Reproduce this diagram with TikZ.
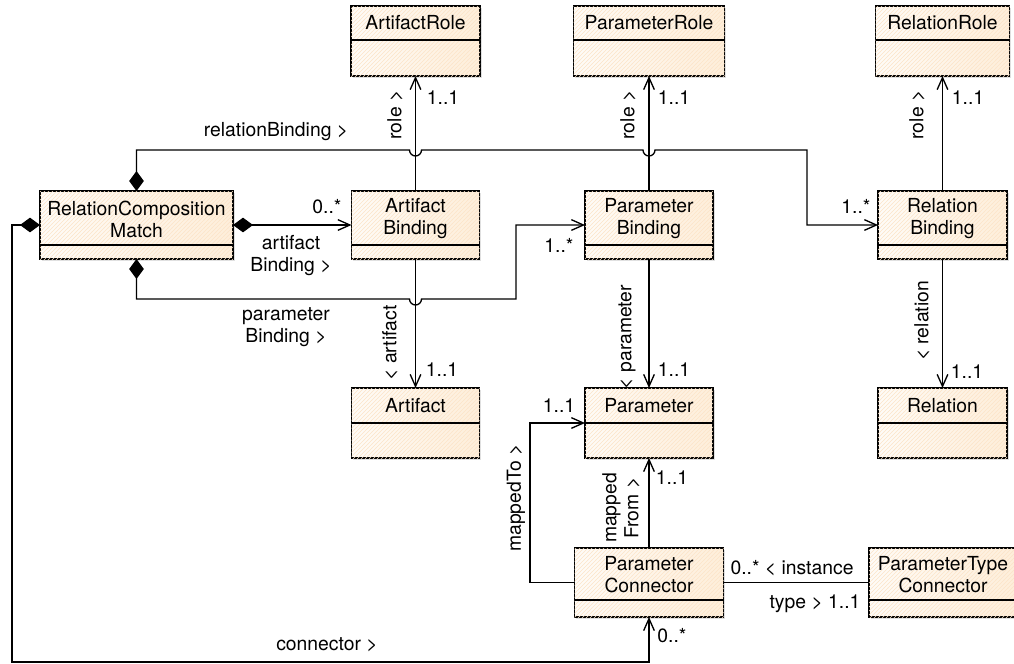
\documentclass[tikz,border=0pt]{standalone}
\usepackage{fontspec}
\setmainfont{TeX Gyre Heros}
\usetikzlibrary{arrows.meta,shadows,patterns}
\tikzset{every picture/.style={line width=0.75pt}}
\definecolor{classfill}{RGB}{254,238,218}
\definecolor{classhatch}{RGB}{252,228,200}
\tikzset{
  cls/.style 2 args={draw, line width=1.1pt, inner sep=0pt, outer sep=0pt,
    minimum width=#1*0.75pt, minimum height=#2*0.75pt,
    left color=white!80!classfill, right color=classfill,
    drop shadow={shadow xshift=1.4pt, shadow yshift=-1.4pt, opacity=0.2, fill=black!60},
    postaction={pattern=north east lines, pattern color=classhatch}},
  sep/.style={line width=1.1pt},
  title/.style={align=center, inner sep=0.75pt},
  lbl/.style={align=center, inner sep=0.75pt},
  assoc/.style={line width=1pt, -{Straight Barb[length=9pt,width=8pt]}},
  compose/.style={line width=1pt, {Diamond[length=15pt,width=11pt]}-{Straight Barb[length=9pt,width=8pt]}},
  plain/.style={line width=1pt},
}

\begin{document}
\begin{tikzpicture}[x=0.75pt,y=0.75pt,yscale=-1,xscale=1,
  every node/.style={font=\fontsize{14.5}{16.5}\selectfont}]
\useasboundingbox (0,0) rectangle (1014,664);

%Shape: Rectangle (role classes)
\node[cls={129}{70}] (artrole) at (415.5,41) {};
\draw[sep] (artrole.west |- 0,40) -- (artrole.east |- 0,40);
\node[cls={151}{70}] (parrole) at (649,41) {};
\draw[sep] (parrole.west |- 0,40) -- (parrole.east |- 0,40);
\node[cls={134}{70}] (relrole) at (942.5,41) {};
\draw[sep] (relrole.west |- 0,40) -- (relrole.east |- 0,40);

%Shape: Rectangle (match and bindings)
\node[cls={193}{68}] (rcm) at (136.5,225) {};
\draw[sep] (rcm.west |- 0,245) -- (rcm.east |- 0,245);
\node[cls={128}{68}] (artbind) at (415.5,225) {};
\draw[sep] (artbind.west |- 0,245) -- (artbind.east |- 0,245);
\node[cls={128}{68}] (parbind) at (649,225) {};
\draw[sep] (parbind.west |- 0,245) -- (parbind.east |- 0,245);
\node[cls={129}{68}] (relbind) at (942.5,225) {};
\draw[sep] (relbind.west |- 0,245) -- (relbind.east |- 0,245);

%Shape: Rectangle (bound elements)
\node[cls={128}{70}] (artifact) at (415.5,423) {};
\draw[sep] (artifact.west |- 0,423) -- (artifact.east |- 0,423);
\node[cls={128}{70}] (param) at (649,423) {};
\draw[sep] (param.west |- 0,423) -- (param.east |- 0,423);
\node[cls={129}{70}] (relation) at (942.5,423) {};
\draw[sep] (relation.west |- 0,423) -- (relation.east |- 0,423);

%Shape: Rectangle (connectors)
\node[cls={149}{69}] (parconn) at (649,582.5) {};
\draw[sep] (parconn.west |- 0,600) -- (parconn.east |- 0,600);
\node[cls={148}{69}] (ptconn) at (943,582.5) {};
\draw[sep] (ptconn.west |- 0,600) -- (ptconn.east |- 0,600);

% Text Node
\node[title] at (415.5,23) {ArtifactRole};
\node[title] at (649,23) {ParameterRole};
\node[title] at (942.5,23) {RelationRole};
\node[title] at (136.5,219) {RelationComposition\\Match};
\node[title] at (415.5,219) {Artifact\\Binding};
\node[title] at (649,219) {Parameter\\Binding};
\node[title] at (942.5,219) {Relation\\Binding};
\node[title] at (415.5,406) {Artifact};
\node[title] at (649,406) {Parameter};
\node[title] at (942.5,406) {Relation};
\node[title] at (649,575) {Parameter\\Connector};
\node[title] at (943,575) {ParameterType\\Connector};

%Straight Lines (compositions)
\draw[compose] (rcm.north) |- (409.5,150)
  arc[start angle=180, end angle=0, radius=4.5pt] -- (643,150)
  arc[start angle=180, end angle=0, radius=4.5pt] -- (807,150) |- (relbind.west);
\draw[compose] (rcm.east) -- (artbind.west);
\draw[compose] (rcm.south) |- (409.5,299)
  arc[start angle=180, end angle=0, radius=4.5pt] -- (516,299) |- (parbind.west);
\draw[compose] (rcm.west) -| (12,662) -| (parconn.south);

%Straight Lines (associations)
\draw[assoc] (artbind.north) -- (artrole.south);
\draw[assoc] (parbind.north) -- (parrole.south);
\draw[assoc] (relbind.north) -- (relrole.south);
\draw[assoc] (artbind.south) -- (artifact.north);
\draw[assoc] (parbind.south) -- (param.north);
\draw[assoc] (relbind.south) -- (relation.north);
\draw[assoc] (parconn.north) -- (param.south);
\draw[assoc] (parconn.west) -| (530,423) -- (param.west);
\draw[plain] (parconn.east) -- (ptconn.west);

% Text Node
\node[lbl] at (276,132) {relationBinding >};
\node[lbl] at (856,206) {1..*};
\node[lbl] at (327,207) {0..*};
\node[lbl] at (291,256) {artifact\\Binding >};
\node[lbl] at (286,327) {parameter\\Binding >};
\node[lbl] at (559,245) {1..*};
\node[lbl] at (327,645) {connector >};
\node[lbl] at (672,636) {0..*};

\node[lbl, rotate=90] at (395,115) {role >};
\node[lbl] at (443,98) {1..1};
\node[lbl, rotate=90] at (628,115) {role >};
\node[lbl] at (674,98) {1..1};
\node[lbl, rotate=90] at (917,115) {role >};
\node[lbl] at (968,98) {1..1};

\node[lbl, rotate=90] at (390,343) {< artifact};
\node[lbl] at (442,370) {1..1};
\node[lbl, rotate=90] at (627,337) {< parameter};
\node[lbl] at (674,370) {1..1};
\node[lbl, rotate=90] at (922,321) {< relation};
\node[lbl] at (967,372) {1..1};

\node[lbl] at (559,406) {1..1};
\node[lbl, rotate=90] at (516,498) {mappedTo >};
\node[lbl, rotate=90] at (621,508) {mapped\\From >};
\node[lbl] at (672,478) {1..1};
\node[lbl] at (792,568) {0..* < instance};
\node[lbl] at (815,604) {type > 1..1};

\end{tikzpicture}
\end{document}
